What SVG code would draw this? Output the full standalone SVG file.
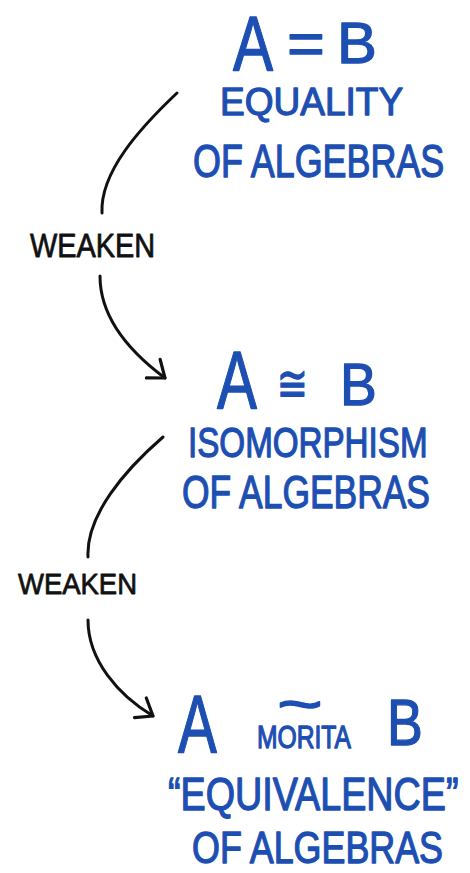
<svg xmlns="http://www.w3.org/2000/svg" width="470" height="873" viewBox="0 0 470 873">
<defs>
<style>
.b{fill:#1d4fb3;stroke:#1d4fb3;stroke-width:1.3;stroke-linejoin:round;font-family:"Liberation Sans","DejaVu Sans",sans-serif}
.k{fill:#111;stroke:#111;stroke-width:0.8;stroke-linejoin:round;font-family:"Liberation Sans","DejaVu Sans",sans-serif}
.c{fill:none;stroke:#111;stroke-width:3;stroke-linecap:round;stroke-linejoin:round}
</style>
<marker id="ah" viewBox="-20 -15 30 30" refX="0" refY="0" markerWidth="30" markerHeight="30" markerUnits="userSpaceOnUse" orient="auto" overflow="visible">
<path d="M-15,-12 L0,0 L-15,11" fill="none" stroke="#111" stroke-width="3.2" stroke-linecap="round" stroke-linejoin="round"/>
</marker>
</defs>
<rect width="470" height="873" fill="#fff"/>
<g id="connectors">
<path class="c" d="M177,93 C140,128 100,172 102,213"/>
<path class="c" d="M100,276 C100,318 130,352 165,378" marker-end="url(#ah)"/>
<path class="c" d="M163,437 C125,470 86,515 88,557"/>
<path class="c" d="M88,620 C88,660 118,695 153,716" marker-end="url(#ah)"/>
</g>
<g id="label-weaken-1">
<text class="k" transform="translate(30,257) scale(0.85,1)" font-size="34">WEAKEN</text>
</g>
<g id="label-weaken-2">
<text class="k" transform="translate(18,594) scale(0.915,1)" font-size="30">WEAKEN</text>
</g>
<g id="node-equality">
<text class="b" transform="translate(233,71) scale(0.77,1)" font-size="78">A</text>
<text class="b" transform="translate(287,64) scale(1.08,1)" font-size="60">=</text>
<text class="b" transform="translate(337,63) scale(1.03,1)" font-size="58">B</text>
<text class="b" transform="translate(220,115) scale(0.95,1)" font-size="39">EQUALITY</text>
<text class="b" transform="translate(193,177) scale(0.78,1)" font-size="46">OF ALGEBRAS</text>
</g>
<g id="node-isomorphism">
<text class="b" transform="translate(217,408) scale(0.73,1)" font-size="82">A</text>
<text class="b" transform="translate(277,401) scale(0.74,1)" font-size="50">≅</text>
<text class="b" transform="translate(340,405) scale(0.92,1)" font-size="60">B</text>
<text class="b" transform="translate(188,457) scale(0.79,1)" font-size="42">ISOMORPHISM</text>
<text class="b" transform="translate(182,508) scale(0.77,1)" font-size="46">OF ALGEBRAS</text>
</g>
<g id="node-morita">
<text class="b" transform="translate(178,752) scale(0.71,1)" font-size="82">A</text>
<text class="b" transform="translate(277,724) scale(1.31,1)" font-size="60">~</text>
<text class="b" transform="translate(257,748) scale(0.77,1)" font-size="32">MORITA</text>
<text class="b" transform="translate(387,745) scale(0.84,1)" font-size="64">B</text>
<text class="b" transform="translate(168,810) scale(0.82,1)" font-size="46">“EQUIVALENCE”</text>
<text class="b" transform="translate(192,863) scale(0.815,1)" font-size="44">OF ALGEBRAS</text>
</g>
</svg>
